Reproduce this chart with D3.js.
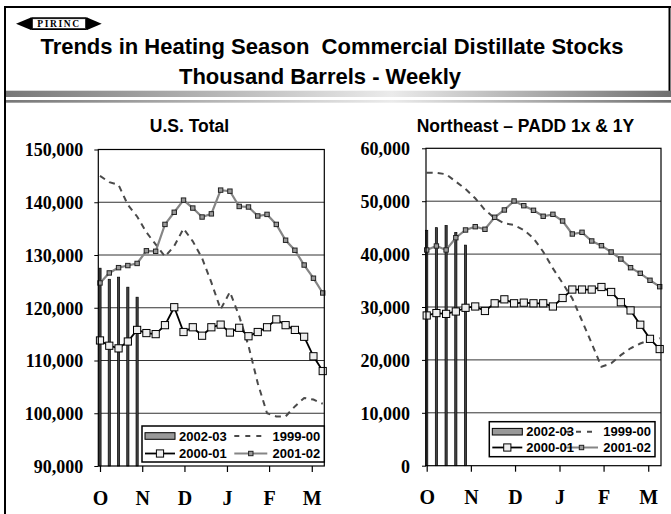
<!DOCTYPE html>
<html><head><meta charset="utf-8">
<script src="https://cdn.jsdelivr.net/npm/d3@7"></script>
<style>html,body{margin:0;padding:0;background:#fff}svg{display:block}</style>
</head><body>
<svg id="c" width="671" height="514"></svg>
<script>
// ---------- data ----------
const weeks = d3.range(25);
const monthLabels = ["O", "N", "D", "J", "F", "M"];
const monthTicks = [0, 4.55, 9.1, 13.68, 18.22, 22.82];
const seriesNames = ["2002-03", "1999-00", "2000-01", "2001-02"];

const usTicks = [90000, 100000, 110000, 120000, 130000, 140000, 150000];
const us2002 = [127500, 125400, 125800, 123900, 122000];
const us1999 = [145000, 143800, 143300, 139500, 137300, 134300, 132000, 129700, 131700, 135000, 132600, 129400, 124800, 119700, 123000, 118400, 112800, 105700, 100000, 99400, 99400, 101300, 102900, 102600, 101800];
const us2000 = [113800, 112800, 112300, 113600, 115800, 115200, 115000, 116700, 120100, 115400, 116300, 114700, 116300, 116800, 115300, 116200, 114600, 115400, 116300, 117800, 116700, 115800, 114500, 110800, 108000];
const us2001 = [124700, 126600, 127600, 128000, 128400, 130800, 130700, 135800, 138100, 140400, 138900, 137200, 137800, 142300, 142100, 139200, 139100, 137400, 137700, 135800, 132800, 130900, 128100, 125600, 122800];

const neTicks = [0, 10000, 20000, 30000, 40000, 50000, 60000];
const ne2002 = [44500, 45000, 45400, 44100, 41700];
const ne1999 = [55400, 55350, 55100, 53700, 52300, 50550, 48350, 46800, 45800, 45500, 44550, 43000, 40450, 37300, 34500, 31600, 27400, 23100, 18700, 19350, 20900, 22200, 23100, 23800, 24100];
const ne2000 = [28400, 28850, 28700, 29150, 29850, 30100, 29250, 30700, 31450, 30700, 30820, 30700, 30700, 30100, 31700, 33300, 33300, 33300, 33780, 32840, 30900, 29350, 26650, 23980, 22050];
const ne2001 = [40780, 41530, 40780, 43100, 44560, 45180, 44690, 46960, 48340, 50040, 49150, 48280, 47150, 47520, 46260, 43800, 44120, 42480, 41590, 40400, 39070, 37430, 36370, 35050, 33840];

// ---------- drawing ----------
const svg = d3.select("#c");
const SANS = "'Liberation Sans', Arial, sans-serif";
const SERIF = "'Liberation Serif', 'Times New Roman', serif";

// gradient
const defs = svg.append("defs");
const grad = defs.append("linearGradient").attr("id", "band").attr("x1", "0").attr("x2", "1").attr("y1", "0").attr("y2", "0");
grad.append("stop").attr("offset", "0%").attr("stop-color", "#777");
grad.append("stop").attr("offset", "58%").attr("stop-color", "#ebebeb");
grad.append("stop").attr("offset", "100%").attr("stop-color", "#707070");

// frame
svg.append("line").attr("x1", 5).attr("x2", 5).attr("y1", 6).attr("y2", 514).attr("stroke", "#000").attr("stroke-width", 2);
svg.append("line").attr("x1", 4).attr("x2", 671).attr("y1", 7).attr("y2", 7).attr("stroke", "#000").attr("stroke-width", 2);
svg.append("line").attr("x1", 669.5).attr("x2", 669.5).attr("y1", 6).attr("y2", 91).attr("stroke", "#000").attr("stroke-width", 2);

// bands
svg.append("rect").attr("x", 6).attr("y", 90.7).attr("width", 665).attr("height", 6.3).attr("fill", "url(#band)");
svg.append("rect").attr("x", 6).attr("y", 100).attr("width", 665).attr("height", 2.7).attr("fill", "url(#band)");

// logo
const logo = svg.append("g");
logo.append("polygon").attr("points", "16,23.7 31,17.5 31,30").attr("fill", "#000");
logo.append("polygon").attr("points", "87,17.5 101.7,23.7 87,30").attr("fill", "#000");
logo.append("rect").attr("x", 30).attr("y", 17.3).attr("width", 58).attr("height", 12.8).attr("rx", 2).attr("fill", "#000");
logo.append("rect").attr("x", 32.5).attr("y", 18.8).attr("width", 53).attr("height", 9.8).attr("fill", "#fff").attr("stroke", "#000").attr("stroke-width", 0.6);
logo.append("text").attr("x", 59).attr("y", 27.3).attr("text-anchor", "middle")
  .attr("font-family", SERIF).attr("font-weight", "bold").attr("font-size", 9.5).attr("letter-spacing", 1.6)
  .text("PIRINC");

// main titles
svg.append("text").attr("x", 332).attr("y", 53.5).attr("text-anchor", "middle")
  .attr("font-family", SANS).attr("font-weight", "bold").attr("font-size", 22).style("white-space", "pre")
  .text("Trends in Heating Season  Commercial Distillate Stocks");
svg.append("text").attr("x", 320).attr("y", 83.5).attr("text-anchor", "middle")
  .attr("font-family", SANS).attr("font-weight", "bold").attr("font-size", 22)
  .text("Thousand Barrels - Weekly");

function drawPanel(cfg) {
  const g = svg.append("g");
  const x = d3.scaleLinear().domain(cfg.xDomain).range([cfg.left, cfg.right]);
  const y = d3.scaleLinear().domain(d3.extent(cfg.ticks)).range([cfg.bottom, cfg.top]);

  // title
  g.append("text").attr("x", cfg.titleX).attr("y", 131.7).attr("text-anchor", "middle")
    .attr("font-family", SANS).attr("font-weight", "bold").attr("font-size", 17.5).text(cfg.title);

  // gridlines
  g.append("g").selectAll("line").data(cfg.ticks.slice(1, -1)).join("line")
    .attr("x1", cfg.left).attr("x2", cfg.right).attr("y1", d => y(d)).attr("y2", d => y(d))
    .attr("stroke", "#333").attr("stroke-width", 1);

  // bars 2002-03
  g.append("g").selectAll("rect").data(cfg.s2002).join("rect")
    .attr("x", (d, i) => x(weeks[i]) - 1.1).attr("width", 2.2)
    .attr("y", d => y(d)).attr("height", d => cfg.bottom - y(d))
    .attr("fill", "#444").attr("stroke", "#000").attr("stroke-width", 0.7);

  // 1999-00 dashed
  const line = d3.line().x((d, i) => x(weeks[i])).y(d => y(d));
  g.append("path").datum(cfg.s1999).attr("d", line).attr("fill", "none")
    .attr("stroke", "#4a4a4a").attr("stroke-width", 2).attr("stroke-dasharray", "6,5");

  // 2001-02 gray line small markers
  g.append("path").datum(cfg.s2001).attr("d", line).attr("fill", "none")
    .attr("stroke", "#858585").attr("stroke-width", 2.2);
  g.append("g").selectAll("rect").data(cfg.s2001).join("rect")
    .attr("x", (d, i) => x(weeks[i]) - 2.2).attr("y", d => y(d) - 2.2)
    .attr("width", 4.4).attr("height", 4.4)
    .attr("fill", "#9a9a9a").attr("stroke", "#222").attr("stroke-width", 1);

  // 2000-01 black line big markers
  g.append("path").datum(cfg.s2000).attr("d", line).attr("fill", "none")
    .attr("stroke", "#000").attr("stroke-width", 1.8);
  g.append("g").selectAll("rect").data(cfg.s2000).join("rect")
    .attr("x", (d, i) => x(weeks[i]) - 3.6).attr("y", d => y(d) - 3.6)
    .attr("width", 7.2).attr("height", 7.2)
    .attr("fill", "#eeeeee").attr("stroke", "#000").attr("stroke-width", 1);

  // plot border
  g.append("rect").attr("x", cfg.left).attr("y", cfg.top)
    .attr("width", cfg.right - cfg.left).attr("height", cfg.bottom - cfg.top)
    .attr("fill", "none").attr("stroke", "#000").attr("stroke-width", 1.2);

  // axes
  const ya = g.append("g").attr("transform", `translate(${cfg.left},0)`)
    .call(d3.axisLeft(y).tickValues(cfg.ticks).tickSize(4).tickPadding(cfg.labelPad).tickFormat(d3.format(",")));
  ya.select(".domain").remove();
  ya.selectAll("line").attr("stroke", "#000");
  ya.selectAll("text").attr("font-family", SERIF).attr("font-weight", "bold").attr("font-size", 18).attr("fill", "#000").attr("dy", "0.36em");

  const xa = g.append("g").attr("transform", `translate(0,${cfg.bottom})`)
    .call(d3.axisBottom(x).tickValues(monthTicks).tickSize(6).tickPadding(18.5).tickFormat((d, i) => monthLabels[i]));
  xa.select(".domain").remove();
  xa.selectAll("line").attr("stroke", "#000").attr("stroke-width", 1.2);
  xa.selectAll("text").attr("font-family", SERIF).attr("font-weight", "bold").attr("font-size", 20).attr("fill", "#000");

  // legend
  const L = cfg.legend;
  const lg = g.append("g");
  lg.append("rect").attr("x", L.x0).attr("y", L.y0).attr("width", L.x1 - L.x0).attr("height", L.y1 - L.y0)
    .attr("fill", "#fff").attr("stroke", "#000").attr("stroke-width", 1.5);
  const r1 = L.r1, r2 = L.r2;
  const c1a = L.x0 + 3, c1b = L.x0 + 33, c2b = L.x1 - 57, c2a = c2b - 33;
  lg.append("rect").attr("x", c1a).attr("y", r1 - 3.3).attr("width", c1b - c1a).attr("height", 6.6)
    .attr("fill", "#999").attr("stroke", "#000").attr("stroke-width", 1);
  lg.append("line").attr("x1", c2a).attr("x2", c2b).attr("y1", r1).attr("y2", r1)
    .attr("stroke", "#4a4a4a").attr("stroke-width", 2).attr("stroke-dasharray", "5,6");
  lg.append("line").attr("x1", c1a).attr("x2", c1b).attr("y1", r2).attr("y2", r2).attr("stroke", "#000").attr("stroke-width", 1.8);
  lg.append("rect").attr("x", (c1a + c1b) / 2 - 3.6).attr("y", r2 - 3.6).attr("width", 7.2).attr("height", 7.2)
    .attr("fill", "#eee").attr("stroke", "#000");
  lg.append("line").attr("x1", c2a).attr("x2", c2b).attr("y1", r2).attr("y2", r2).attr("stroke", "#858585").attr("stroke-width", 2.2);
  lg.append("rect").attr("x", (c2a + c2b) / 2 - 2.2).attr("y", r2 - 2.2).attr("width", 4.4).attr("height", 4.4)
    .attr("fill", "#9a9a9a").attr("stroke", "#222");
  const lt = (tx, ty, s, anchor) => lg.append("text").attr("x", tx).attr("y", ty).attr("dy", "0.36em")
    .attr("text-anchor", anchor).attr("font-family", SANS).attr("font-weight", "bold").attr("font-size", 13).text(s);
  lt(c1b + 4, r1, seriesNames[0], "start");
  lt(L.x1 - 4, r1, seriesNames[1], "end");
  lt(c1b + 4, r2, seriesNames[2], "start");
  lt(L.x1 - 4, r2, seriesNames[3], "end");
}

drawPanel({
  title: "U.S. Total", titleX: 189.5,
  left: 98.3, right: 324.3, top: 149.5, bottom: 466,
  xDomain: [-0.183, 24.17], ticks: usTicks, labelPad: 11,
  s2002: us2002, s1999: us1999, s2000: us2000, s2001: us2001,
  legend: { x0: 142, x1: 324.3, y0: 426, y1: 462, r1: 436, r2: 453.5 }
});
drawPanel({
  title: "Northeast \u2013 PADD 1x & 1Y", titleX: 525.5,
  left: 426, right: 661, top: 148.3, bottom: 465.7,
  xDomain: [-0.072, 24.135], ticks: neTicks, labelPad: 12,
  s2002: ne2002, s1999: ne1999, s2000: ne2000, s2001: ne2001,
  legend: { x0: 489.3, x1: 655, y0: 421.7, y1: 456.7, r1: 431.7, r2: 447.5 }
});
</script>
</body></html>
